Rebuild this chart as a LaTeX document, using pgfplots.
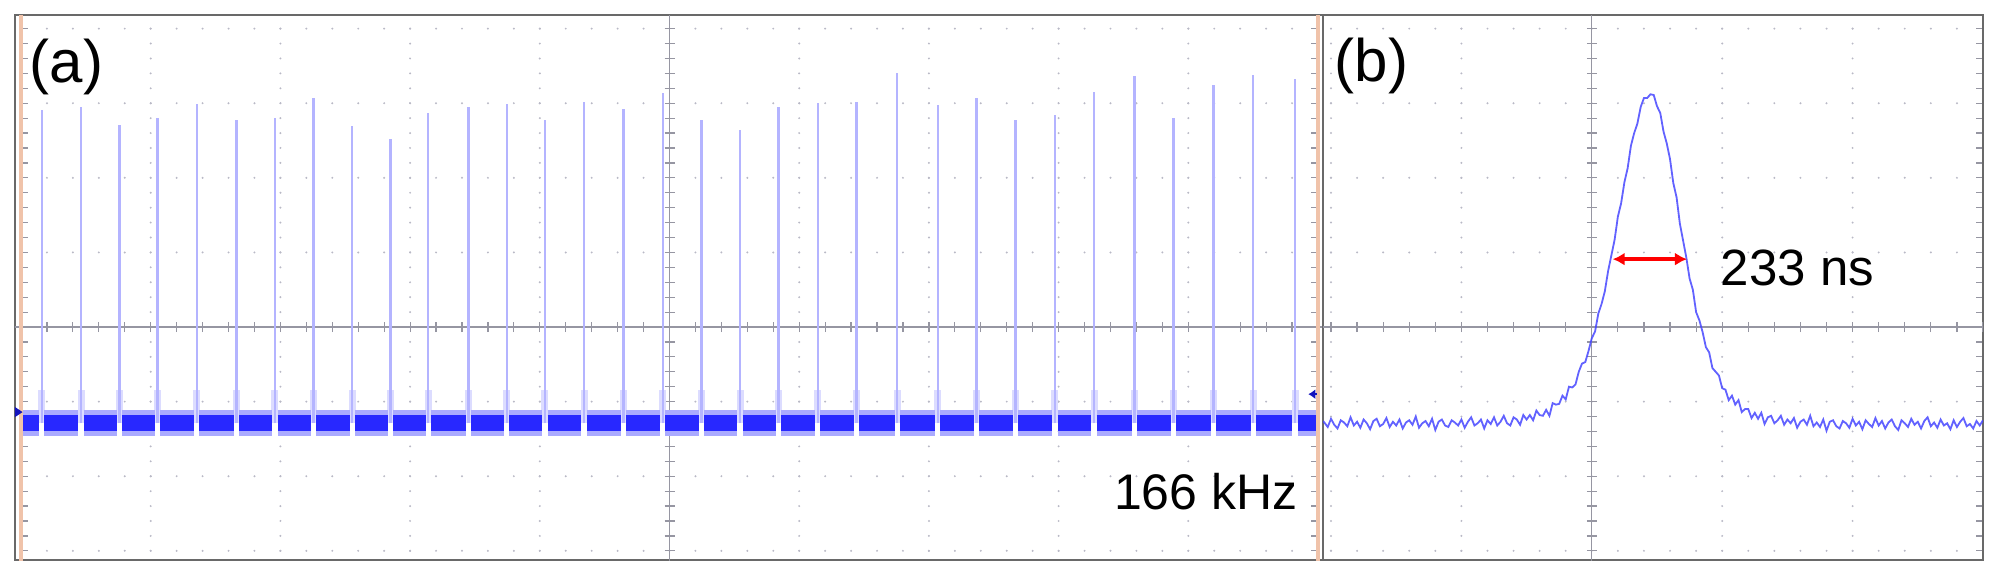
\documentclass[border=0pt]{standalone}
\usepackage{fontspec}
\setmainfont{Liberation Sans}
\usepackage{pgfplots}
\pgfplotsset{compat=1.18}
\usetikzlibrary{arrows.meta}
\definecolor{trace}{RGB}{40,40,255}
\definecolor{tracefringe}{RGB}{170,170,255}
\definecolor{spike}{RGB}{180,180,255}
\definecolor{spikebase}{RGB}{220,220,255}
\definecolor{pulse}{RGB}{70,70,255}
\definecolor{griddot}{RGB}{185,185,198}
\definecolor{centreln}{RGB}{150,150,162}
\definecolor{cursor}{RGB}{240,195,170}
\definecolor{framegray}{RGB}{105,105,105}
\definecolor{marker}{RGB}{20,20,190}

\pgfplotsset{osc/.style={anchor=south west,y=37.3pt,ymin=-3.123,ymax=4.182,
  xtick=\empty,ytick=\empty,axis line style={framegray,line width=1.4pt},clip=true}}
\tikzset{gdot/.style={griddot,line width=1.1pt,line cap=round},
  cline/.style={centreln,line width=0.6pt}}

\begin{document}
\begin{tikzpicture}
\useasboundingbox (0,0) rectangle (999.5pt,287.5pt);

% (a) pulse train, 20 us/div, x in divisions
\begin{axis}[osc,at={(7.5pt,7.5pt)},x=64.85pt,xmin=-0.0463,xmax=10.0386]
\pgfplotsinvokeforeach{1,2,3,4,6,7,8,9}{\draw[gdot,dash pattern=on 0pt off 7.46pt] (axis cs:#1,-3) -- (axis cs:#1,4);}
\pgfplotsinvokeforeach{-3,-2,-1,1,2,3,4}{\draw[gdot,dash pattern=on 0pt off 12.97pt] (axis cs:0,#1) -- (axis cs:10,#1);}
\draw[cline] (axis cs:5,-3.2) -- (axis cs:5,4.2);
\draw[cline] (axis cs:-0.1,0) -- (axis cs:10.1,0);
\pgfplotsinvokeforeach{0,0.2,...,10}{\draw[cline] ([yshift=-2.5pt]axis cs:#1,0) -- ([yshift=2.5pt]axis cs:#1,0);}
\pgfplotsinvokeforeach{-3,-2.8,...,4}{\draw[cline] ([xshift=-2.5pt]axis cs:5,#1) -- ([xshift=2.5pt]axis cs:5,#1);
  \draw[cline] ([xshift=1pt]axis cs:0,#1) -- ([xshift=3.5pt]axis cs:0,#1);
  \draw[cline] ([xshift=-1pt]axis cs:10,#1) -- ([xshift=-3.5pt]axis cs:10,#1);}
% pulses
\addplot[spikebase,line width=3.5pt,unbounded coords=jump] coordinates {
(0.160,-1.29) (0.160,-0.85) (0.160,nan) (0.463,-1.29) (0.463,-0.85) (0.463,nan)
(0.758,-1.29) (0.758,-0.85) (0.758,nan) (1.051,-1.29) (1.051,-0.85) (1.051,nan)
(1.355,-1.29) (1.355,-0.85) (1.355,nan) (1.663,-1.29) (1.663,-0.85) (1.663,nan)
(1.958,-1.29) (1.958,-0.85) (1.958,nan) (2.254,-1.29) (2.254,-0.85) (2.254,nan)
(2.554,-1.29) (2.554,-0.85) (2.554,nan) (2.850,-1.29) (2.850,-0.85) (2.850,nan)
(3.140,-1.29) (3.140,-0.85) (3.140,nan) (3.449,-1.29) (3.449,-0.85) (3.449,nan)
(3.745,-1.29) (3.745,-0.85) (3.745,nan) (4.040,-1.29) (4.040,-0.85) (4.040,nan)
(4.341,-1.29) (4.341,-0.85) (4.341,nan) (4.644,-1.29) (4.644,-0.85) (4.644,nan)
(4.948,-1.29) (4.948,-0.85) (4.948,nan) (5.248,-1.29) (5.248,-0.85) (5.248,nan)
(5.544,-1.29) (5.544,-0.85) (5.544,nan) (5.839,-1.29) (5.839,-0.85) (5.839,nan)
(6.143,-1.29) (6.143,-0.85) (6.143,nan) (6.443,-1.29) (6.443,-0.85) (6.443,nan)
(6.756,-1.29) (6.756,-0.85) (6.756,nan) (7.068,-1.29) (7.068,-0.85) (7.068,nan)
(7.368,-1.29) (7.368,-0.85) (7.368,nan) (7.669,-1.29) (7.669,-0.85) (7.669,nan)
(7.972,-1.29) (7.972,-0.85) (7.972,nan) (8.273,-1.29) (8.273,-0.85) (8.273,nan)
(8.584,-1.29) (8.584,-0.85) (8.584,nan) (8.885,-1.29) (8.885,-0.85) (8.885,nan)
(9.193,-1.29) (9.193,-0.85) (9.193,nan) (9.501,-1.29) (9.501,-0.85) (9.501,nan)
(9.823,-1.29) (9.823,-0.85)};
\addplot[spike,line width=1.2pt,unbounded coords=jump] coordinates {
(0.160,-1.29) (0.160,2.91) (0.160,nan) (0.463,-1.29) (0.463,2.95) (0.463,nan)
(0.758,-1.29) (0.758,2.71) (0.758,nan) (1.051,-1.29) (1.051,2.80) (1.051,nan)
(1.355,-1.29) (1.355,2.99) (1.355,nan) (1.663,-1.29) (1.663,2.77) (1.663,nan)
(1.958,-1.29) (1.958,2.80) (1.958,nan) (2.254,-1.29) (2.254,3.07) (2.254,nan)
(2.554,-1.29) (2.554,2.69) (2.554,nan) (2.850,-1.29) (2.850,2.52) (2.850,nan)
(3.140,-1.29) (3.140,2.87) (3.140,nan) (3.449,-1.29) (3.449,2.95) (3.449,nan)
(3.745,-1.29) (3.745,2.99) (3.745,nan) (4.040,-1.29) (4.040,2.77) (4.040,nan)
(4.341,-1.29) (4.341,3.02) (4.341,nan) (4.644,-1.29) (4.644,2.92) (4.644,nan)
(4.948,-1.29) (4.948,3.14) (4.948,nan) (5.248,-1.29) (5.248,2.77) (5.248,nan)
(5.544,-1.29) (5.544,2.64) (5.544,nan) (5.839,-1.29) (5.839,2.95) (5.839,nan)
(6.143,-1.29) (6.143,3.00) (6.143,nan) (6.443,-1.29) (6.443,3.01) (6.443,nan)
(6.756,-1.29) (6.756,3.40) (6.756,nan) (7.068,-1.29) (7.068,2.98) (7.068,nan)
(7.368,-1.29) (7.368,3.07) (7.368,nan) (7.669,-1.29) (7.669,2.77) (7.669,nan)
(7.972,-1.29) (7.972,2.84) (7.972,nan) (8.273,-1.29) (8.273,3.15) (8.273,nan)
(8.584,-1.29) (8.584,3.36) (8.584,nan) (8.885,-1.29) (8.885,2.80) (8.885,nan)
(9.193,-1.29) (9.193,3.24) (9.193,nan) (9.501,-1.29) (9.501,3.38) (9.501,nan)
(9.823,-1.29) (9.823,3.32)};
% noisy baseline between the pulses
\addplot[tracefringe,line width=13pt,unbounded coords=jump] coordinates {
(0,-1.29) (0.140,-1.29) (0.16,nan) (0.180,-1.29) (0.443,-1.29) (0.45,nan)
(0.483,-1.29) (0.738,-1.29) (0.75,nan) (0.778,-1.29) (1.031,-1.29) (1.04,nan)
(1.071,-1.29) (1.335,-1.29) (1.34,nan) (1.375,-1.29) (1.643,-1.29) (1.65,nan)
(1.683,-1.29) (1.938,-1.29) (1.94,nan) (1.978,-1.29) (2.234,-1.29) (2.24,nan)
(2.274,-1.29) (2.534,-1.29) (2.54,nan) (2.574,-1.29) (2.830,-1.29) (2.84,nan)
(2.870,-1.29) (3.120,-1.29) (3.13,nan) (3.160,-1.29) (3.429,-1.29) (3.43,nan)
(3.469,-1.29) (3.725,-1.29) (3.73,nan) (3.765,-1.29) (4.020,-1.29) (4.03,nan)
(4.060,-1.29) (4.321,-1.29) (4.33,nan) (4.361,-1.29) (4.624,-1.29) (4.63,nan)
(4.664,-1.29) (4.928,-1.29) (4.93,nan) (4.968,-1.29) (5.228,-1.29) (5.23,nan)
(5.268,-1.29) (5.524,-1.29) (5.53,nan) (5.564,-1.29) (5.819,-1.29) (5.82,nan)
(5.859,-1.29) (6.123,-1.29) (6.13,nan) (6.163,-1.29) (6.423,-1.29) (6.43,nan)
(6.463,-1.29) (6.736,-1.29) (6.74,nan) (6.776,-1.29) (7.048,-1.29) (7.05,nan)
(7.088,-1.29) (7.348,-1.29) (7.35,nan) (7.388,-1.29) (7.649,-1.29) (7.65,nan)
(7.689,-1.29) (7.952,-1.29) (7.96,nan) (7.992,-1.29) (8.253,-1.29) (8.26,nan)
(8.293,-1.29) (8.564,-1.29) (8.57,nan) (8.604,-1.29) (8.865,-1.29) (8.87,nan)
(8.905,-1.29) (9.173,-1.29) (9.18,nan) (9.213,-1.29) (9.481,-1.29) (9.49,nan)
(9.521,-1.29) (9.803,-1.29) (9.81,nan) (9.843,-1.29) (10.0,-1.29)};
\addplot[trace,line width=8pt,unbounded coords=jump] coordinates {
(0,-1.29) (0.140,-1.29) (0.16,nan) (0.180,-1.29) (0.443,-1.29) (0.45,nan)
(0.483,-1.29) (0.738,-1.29) (0.75,nan) (0.778,-1.29) (1.031,-1.29) (1.04,nan)
(1.071,-1.29) (1.335,-1.29) (1.34,nan) (1.375,-1.29) (1.643,-1.29) (1.65,nan)
(1.683,-1.29) (1.938,-1.29) (1.94,nan) (1.978,-1.29) (2.234,-1.29) (2.24,nan)
(2.274,-1.29) (2.534,-1.29) (2.54,nan) (2.574,-1.29) (2.830,-1.29) (2.84,nan)
(2.870,-1.29) (3.120,-1.29) (3.13,nan) (3.160,-1.29) (3.429,-1.29) (3.43,nan)
(3.469,-1.29) (3.725,-1.29) (3.73,nan) (3.765,-1.29) (4.020,-1.29) (4.03,nan)
(4.060,-1.29) (4.321,-1.29) (4.33,nan) (4.361,-1.29) (4.624,-1.29) (4.63,nan)
(4.664,-1.29) (4.928,-1.29) (4.93,nan) (4.968,-1.29) (5.228,-1.29) (5.23,nan)
(5.268,-1.29) (5.524,-1.29) (5.53,nan) (5.564,-1.29) (5.819,-1.29) (5.82,nan)
(5.859,-1.29) (6.123,-1.29) (6.13,nan) (6.163,-1.29) (6.423,-1.29) (6.43,nan)
(6.463,-1.29) (6.736,-1.29) (6.74,nan) (6.776,-1.29) (7.048,-1.29) (7.05,nan)
(7.088,-1.29) (7.348,-1.29) (7.35,nan) (7.388,-1.29) (7.649,-1.29) (7.65,nan)
(7.689,-1.29) (7.952,-1.29) (7.96,nan) (7.992,-1.29) (8.253,-1.29) (8.26,nan)
(8.293,-1.29) (8.564,-1.29) (8.57,nan) (8.604,-1.29) (8.865,-1.29) (8.87,nan)
(8.905,-1.29) (9.173,-1.29) (9.18,nan) (9.213,-1.29) (9.481,-1.29) (9.49,nan)
(9.521,-1.29) (9.803,-1.29) (9.81,nan) (9.843,-1.29) (10.0,-1.29)};
% cursors and level markers
\draw[cursor,line width=2pt] (axis cs:0,-3.2) -- (axis cs:0,4.2);
\draw[cursor,line width=2pt] (axis cs:10,-3.2) -- (axis cs:10,4.2);
\fill[marker] ([yshift=2.5pt]axis cs:-0.0463,-1.14) -- ([xshift=3.8pt]axis cs:-0.0463,-1.14) -- ([yshift=-2.5pt]axis cs:-0.0463,-1.14) -- cycle;
\draw[marker,line width=1.1pt,-{Latex[length=3.5pt,width=5pt]}] (axis cs:9.99,-0.90) -- (axis cs:9.925,-0.90);
\end{axis}

% (b) single pulse, x in divisions
\begin{axis}[osc,at={(661.5pt,7.5pt)},x=65.2pt,xmin=-0.0613,xmax=5.0]
\pgfplotsinvokeforeach{0,1,3,4}{\draw[gdot,dash pattern=on 0pt off 7.46pt] (axis cs:#1,-3) -- (axis cs:#1,4);}
\pgfplotsinvokeforeach{-3,-2,-1,1,2,3,4}{\draw[gdot,dash pattern=on 0pt off 13.04pt] (axis cs:0,#1) -- (axis cs:5,#1);}
\draw[cline] (axis cs:2,-3.2) -- (axis cs:2,4.2);
\draw[cline] (axis cs:-0.1,0) -- (axis cs:5.1,0);
\pgfplotsinvokeforeach{0,0.2,...,5}{\draw[cline] ([yshift=-2.5pt]axis cs:#1,0) -- ([yshift=2.5pt]axis cs:#1,0);}
\pgfplotsinvokeforeach{-3,-2.8,...,4}{\draw[cline] ([xshift=-2.5pt]axis cs:2,#1) -- ([xshift=2.5pt]axis cs:2,#1);
  \draw[cline] ([xshift=-0.5pt]axis cs:5,#1) -- ([xshift=-3.5pt]axis cs:5,#1);}
\addplot[pulse,line width=0.9pt,opacity=0.85] coordinates {
(-0.06,-1.26) (-0.025,-1.34) (0.0,-1.23) (0.025,-1.31) (0.05,-1.36) (0.075,-1.25)
(0.1,-1.28) (0.125,-1.33) (0.15,-1.21) (0.175,-1.32) (0.2,-1.27) (0.225,-1.35)
(0.25,-1.24) (0.275,-1.29) (0.3,-1.37) (0.325,-1.26) (0.35,-1.23) (0.375,-1.33)
(0.4,-1.30) (0.425,-1.22) (0.45,-1.34) (0.475,-1.27) (0.5,-1.32) (0.525,-1.24)
(0.55,-1.36) (0.575,-1.28) (0.6,-1.25) (0.625,-1.31) (0.65,-1.20) (0.675,-1.35)
(0.7,-1.29) (0.725,-1.26) (0.75,-1.33) (0.775,-1.23) (0.8,-1.38) (0.825,-1.27)
(0.85,-1.24) (0.875,-1.32) (0.9,-1.34) (0.925,-1.25) (0.95,-1.28) (0.975,-1.32)
(1.0,-1.24) (1.025,-1.35) (1.05,-1.27) (1.075,-1.21) (1.1,-1.32) (1.125,-1.29)
(1.15,-1.24) (1.175,-1.36) (1.2,-1.25) (1.225,-1.30) (1.25,-1.21) (1.275,-1.32)
(1.3,-1.27) (1.325,-1.19) (1.35,-1.29) (1.375,-1.32) (1.4,-1.21) (1.425,-1.24)
(1.45,-1.31) (1.475,-1.18) (1.5,-1.24) (1.525,-1.18) (1.55,-1.25) (1.575,-1.12)
(1.6,-1.18) (1.625,-1.19) (1.65,-1.11) (1.675,-1.19) (1.7,-1.02) (1.725,-1.04)
(1.75,-1.03) (1.775,-0.92) (1.8,-0.97) (1.825,-0.80) (1.85,-0.81) (1.875,-0.77)
(1.9,-0.60) (1.925,-0.49) (1.95,-0.47) (1.975,-0.32) (2.0,-0.15) (2.025,-0.06)
(2.05,0.18) (2.075,0.31) (2.1,0.48) (2.125,0.75) (2.15,0.96) (2.175,1.17)
(2.2,1.48) (2.225,1.66) (2.25,1.94) (2.275,2.13) (2.3,2.43) (2.325,2.60)
(2.35,2.73) (2.375,2.95) (2.4,3.07) (2.425,3.07) (2.45,3.12) (2.475,3.11)
(2.5,2.96) (2.525,2.87) (2.55,2.62) (2.575,2.46) (2.6,2.25) (2.625,1.93)
(2.65,1.74) (2.675,1.39) (2.7,1.16) (2.725,0.93) (2.75,0.65) (2.775,0.50)
(2.8,0.20) (2.825,0.09) (2.85,-0.07) (2.875,-0.27) (2.9,-0.34) (2.925,-0.55)
(2.95,-0.60) (2.975,-0.65) (3.0,-0.82) (3.025,-0.84) (3.05,-0.98) (3.075,-0.92)
(3.1,-1.04) (3.125,-0.98) (3.15,-1.14) (3.175,-1.10) (3.2,-1.10) (3.225,-1.22)
(3.25,-1.15) (3.275,-1.23) (3.3,-1.15) (3.325,-1.30) (3.35,-1.21) (3.375,-1.19)
(3.4,-1.29) (3.425,-1.25) (3.45,-1.19) (3.475,-1.31) (3.5,-1.24) (3.525,-1.29)
(3.55,-1.22) (3.575,-1.35) (3.6,-1.27) (3.625,-1.24) (3.65,-1.31) (3.675,-1.19)
(3.7,-1.33) (3.725,-1.28) (3.75,-1.34) (3.775,-1.24) (3.8,-1.39) (3.825,-1.27)
(3.85,-1.25) (3.875,-1.33) (3.9,-1.36) (3.925,-1.26) (3.95,-1.29) (3.975,-1.35)
(4.0,-1.23) (4.025,-1.32) (4.05,-1.27) (4.075,-1.37) (4.1,-1.25) (4.125,-1.30)
(4.15,-1.34) (4.175,-1.22) (4.2,-1.32) (4.225,-1.26) (4.25,-1.36) (4.275,-1.28)
(4.3,-1.24) (4.325,-1.33) (4.35,-1.38) (4.375,-1.25) (4.4,-1.29) (4.425,-1.34)
(4.45,-1.23) (4.475,-1.31) (4.5,-1.27) (4.525,-1.36) (4.55,-1.26) (4.575,-1.21)
(4.6,-1.33) (4.625,-1.28) (4.65,-1.35) (4.675,-1.24) (4.7,-1.32) (4.725,-1.29)
(4.75,-1.37) (4.775,-1.25) (4.8,-1.34) (4.825,-1.27) (4.85,-1.22) (4.875,-1.33)
(4.9,-1.30) (4.925,-1.36) (4.95,-1.26) (4.975,-1.32) (5.0,-1.25)};
\draw[red,line width=1.8pt,{Latex[length=6pt,width=6.5pt]}-{Latex[length=6pt,width=6.5pt]}] (axis cs:2.16,0.91) -- (axis cs:2.73,0.91);
\end{axis}

\node[anchor=base west,inner sep=0pt,font=\fontsize{30}{36}\selectfont] at (14.75pt,246.5pt) {(a)};
\node[anchor=base west,inner sep=0pt,font=\fontsize{30}{36}\selectfont] at (667.25pt,247pt) {(b)};
\node[anchor=base east,inner sep=0pt,font=\fontsize{25}{30}\selectfont] at (649pt,33pt) {166 kHz};
\node[anchor=base west,inner sep=0pt,font=\fontsize{25.5}{30}\selectfont] at (860.25pt,145pt) {233 ns};
\end{tikzpicture}
\end{document}
